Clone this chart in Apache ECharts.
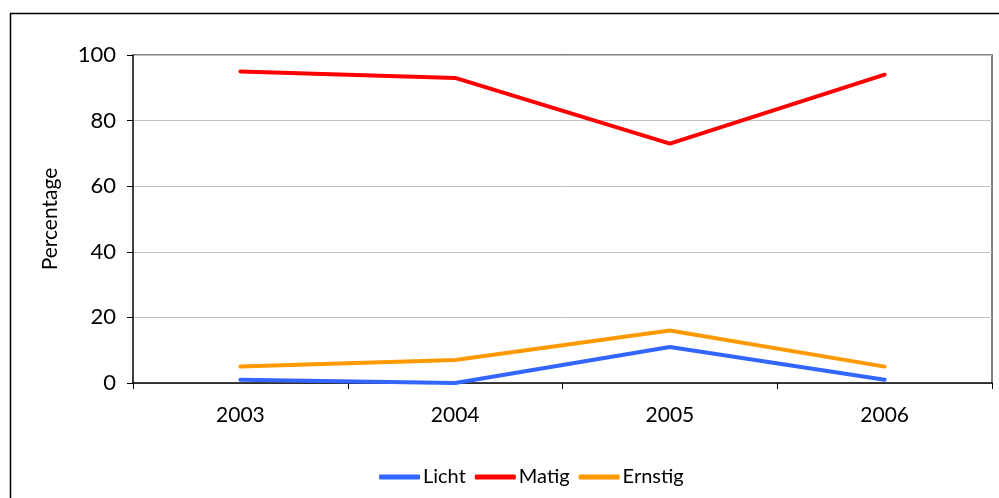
<!DOCTYPE html>
<html><head><meta charset="utf-8">
<script src="https://cdn.jsdelivr.net/npm/echarts@6/dist/echarts.min.js"></script>
<style>html,body{margin:0;padding:0;background:#fff}#c{width:999px;height:498px}</style>
</head><body><div id="c"></div>
<script>
var categories = ['2003','2004','2005','2006'];
var licht = [1, 0, 11, 1];
var matig = [95, 93, 73, 94];
var ernstig = [5, 7, 16, 5];
var yTicks = [0, 20, 40, 60, 80, 100];

var chart = echarts.init(document.getElementById('c'), null, {renderer:'canvas'});
var font = 'Lato';
function ser(name, data, color){
  return {name:name, type:'line', data:data, symbol:'none', smooth:false,
    lineStyle:{color:color, width:4, cap:'round', join:'round'}, itemStyle:{color:color}};
}
chart.setOption({
  animation:false,
  backgroundColor:'#fff',
  graphic:[
    {type:'rect', shape:{x:10.5,y:13.5,width:1000,height:500}, style:{fill:null, stroke:'#000', lineWidth:1.5}, z:-10},
    {type:'polyline', shape:{points:[[133,55],[992,55],[992,383]]}, style:{fill:null, stroke:'#808080', lineWidth:2}, z:-5}
  ],
  grid:{left:133, right:7, top:55, bottom:115},
  legend:{bottom:6, left:374, icon:'roundRect', itemWidth:41, itemHeight:5, itemGap:9,
    textStyle:{fontFamily:font, fontSize:20, color:'#000', padding:[0,0,0,-2]},
    data:['Licht','Matig','Ernstig']},
  xAxis:{type:'category', data:categories, boundaryGap:true,
    axisLine:{lineStyle:{color:'#000', width:1.5}},
    axisTick:{show:true, length:6, lineStyle:{color:'#000'}},
    axisLabel:{fontFamily:font, fontSize:21, color:'#000', margin:22}},
  yAxis:{type:'value', min:yTicks[0], max:yTicks[yTicks.length-1], interval:20,
    name:'Percentage', nameLocation:'middle', nameGap:72, nameRotate:90,
    nameTextStyle:{fontFamily:font, fontSize:21, color:'#000'},
    axisLine:{show:true, lineStyle:{color:'#000', width:1.5}},
    axisTick:{show:true, inside:false, length:6, lineStyle:{color:'#000'}},
    splitLine:{lineStyle:{color:'#c0c0c0', width:1}},
    axisLabel:{fontFamily:font, fontSize:22, color:'#000', margin:17}},
  series:[ser('Licht', licht, '#3366ff'), ser('Matig', matig, '#ff0000'), ser('Ernstig', ernstig, '#ff9900')]
});
</script></body></html>
